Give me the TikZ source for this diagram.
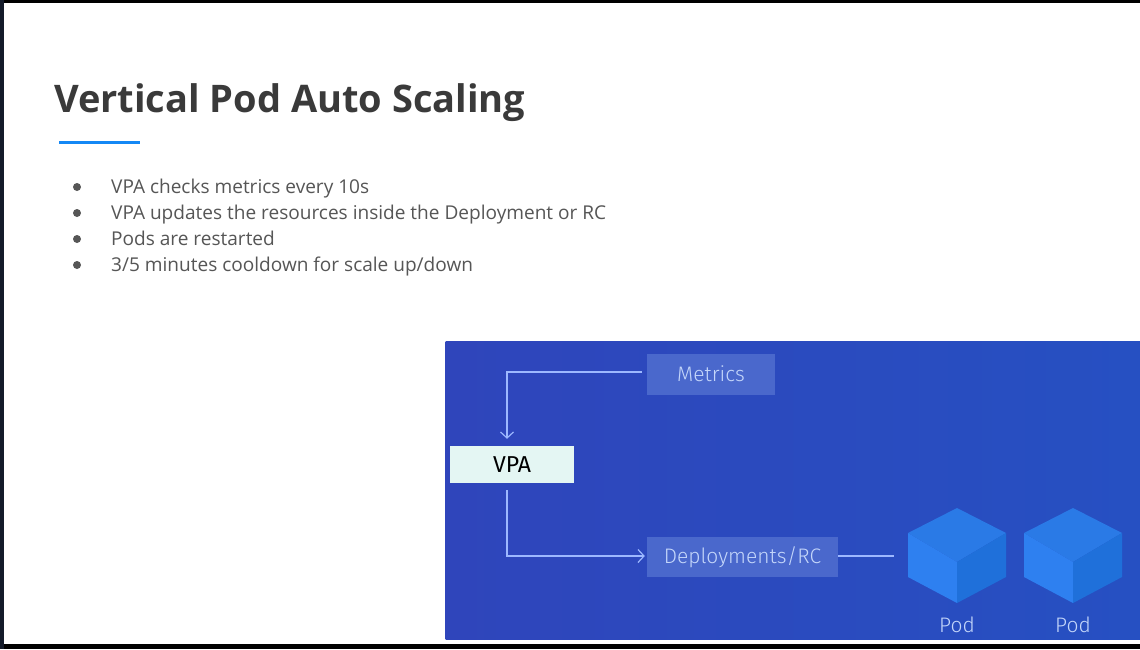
\documentclass[tikz,border=0pt]{standalone}
\usepackage{fontspec}
\setmainfont{Open Sans}
\newfontfamily\dgfont{Fira Sans Light}
\newfontfamily\dgfontreg{Fira Sans}
\usetikzlibrary{arrows.meta,calc}
\definecolor{txt}{HTML}{565656}
\definecolor{titlec}{HTML}{3A3A3A}
\definecolor{accent}{HTML}{1488F5}
\definecolor{panelL}{HTML}{2F45BB}
\definecolor{panelR}{HTML}{2650C2}
\definecolor{boxc}{HTML}{4A68CC}
\definecolor{linec}{HTML}{9DB8FF}
\definecolor{labelc}{HTML}{C4D6FA}
\definecolor{vpac}{HTML}{E4F6F3}
\definecolor{ctop}{HTML}{2A7AE6}
\definecolor{cleft}{HTML}{2E80F0}
\definecolor{cright}{HTML}{1F70DA}
\definecolor{framec}{HTML}{141B2A}
\tikzset{
  x=1pt,y=-1pt,
  bulletdot/.style={circle,fill=txt,inner sep=0pt,minimum size=8pt},
  bodytext/.style={anchor=base west,inner sep=0pt,text=txt,font=\fontsize{19.05}{22}\selectfont},
  softbox/.style={fill=boxc,inner sep=0pt,text=labelc,font=\dgfont\fontsize{21}{24}\selectfont},
  podlabel/.style={inner sep=0pt,text=labelc,font=\dgfont\fontsize{21}{24}\selectfont},
  conn/.style={draw=linec,line width=1.3pt},
  connarrow/.style={conn,-{Straight Barb[length=6pt,width=13pt,line width=1.2pt]}},
  pad/.style={inner sep=0pt,outer sep=0pt}
}
\newcommand{\podcube}[2]{%
  \fill[ctop]  (#1,#2) -- (#1+49,#2+25) -- (#1,#2+54) -- (#1-49,#2+25) -- cycle;
  \fill[cleft] (#1-49,#2+25) -- (#1,#2+54) -- (#1,#2+95) -- (#1-49,#2+69) -- cycle;
  \fill[cright](#1+49,#2+25) -- (#1,#2+54) -- (#1,#2+95) -- (#1+49,#2+69) -- cycle;
}
\begin{document}
\begin{tikzpicture}
\useasboundingbox (0,0) rectangle (1140,649);
% screen frame
\fill[white] (0,0) rectangle (1140,649);
\fill[black] (0,0) rectangle (1140,3);
\fill[black] (0,644) rectangle (1140,649);
\fill[framec] (0,0) rectangle (3.5,649);
% title
\node[anchor=base west,inner sep=0pt,text=titlec,font=\bfseries\fontsize{38}{44}\selectfont] (title) at (54,112.5) {Vertical Pod Auto Scaling};
\fill[accent] (59,140.5) rectangle (140,143.5);
% bullets
\node[bulletdot] (b1) at (77,187) {};
\node[bulletdot] (b2) at (77,213) {};
\node[bulletdot] (b3) at (77,239) {};
\node[bulletdot] (b4) at (77,265) {};
\node[bodytext] (t1) at (111,193) {VPA checks metrics every 10s};
\node[bodytext] (t2) at (111,219) {VPA updates the resources inside the Deployment or RC};
\node[bodytext] (t3) at (111,245) {Pods are restarted};
\node[bodytext] (t4) at (111,271) {3/5 minutes cooldown for scale up/down};
% panel
\shade[left color=panelL,right color=panelR] (445.5,341) rectangle (1140,639);
% boxes
\node[softbox,minimum width=128pt,minimum height=41pt] (metrics) at (711,374.5) {\raisebox{1pt}{Metrics}};
\node[softbox,minimum width=191pt,minimum height=40pt] (deploy) at (742.5,557) {\raisebox{1pt}{Deployments/RC}};
\node[fill=vpac,inner sep=0pt,minimum width=124pt,minimum height=37pt,text=black,font=\dgfontreg\fontsize{23}{26}\selectfont] (vpa) at (512,464.5) {VPA};
% cubes
\podcube{957}{508}
\podcube{1073}{508}
\node[pad,minimum width=98pt,minimum height=95pt] (pod1) at (957,555.5) {};
\node[pad,minimum width=98pt,minimum height=95pt] (pod2) at (1073,555.5) {};
\node[podlabel] (l1) at (957,625) {Pod};
\node[podlabel] (l2) at (1073,625) {Pod};
% connectors
\coordinate (mout) at ($(metrics.west)+(-5,-2.5)$);
\coordinate (vin) at ($(vpa.north)+(-5,-7)$);
\coordinate (vout) at ($(vpa.south)+(-5,7)$);
\coordinate (din) at ($(deploy.west)+(-2,-1)$);
\coordinate (podin) at ($(pod1.west)+(-14,0.5)$);
\draw[connarrow] (mout) -| (vin);
\draw[connarrow] (vout) |- (din);
\draw[conn] (deploy.east |- podin) -- (podin);
\end{tikzpicture}
\end{document}
